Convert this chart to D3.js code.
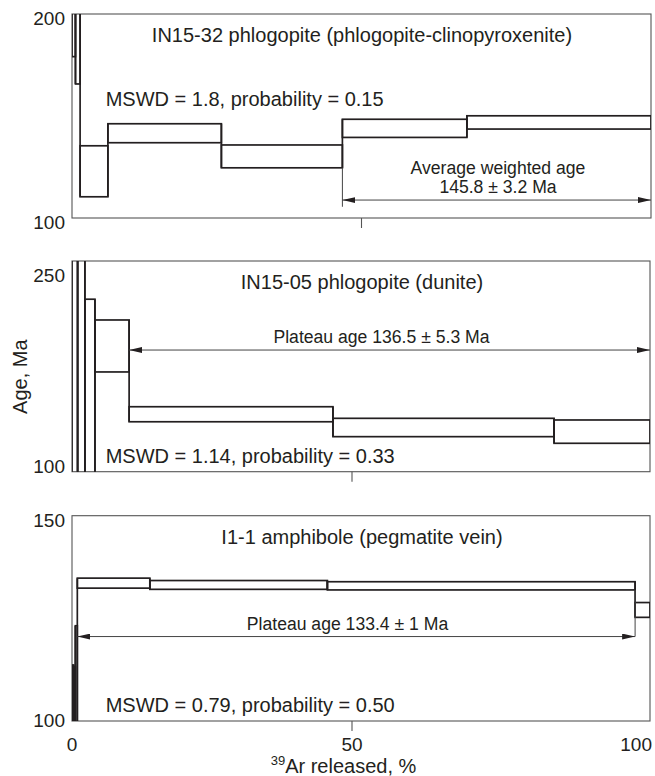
<!DOCTYPE html>
<html>
<head>
<meta charset="utf-8">
<script src="https://cdn.jsdelivr.net/npm/d3@7"></script>
<style>
body { margin: 0; background: #fff; }
svg text { font-family: "Liberation Sans", Arial, sans-serif; fill: #231f20; }
</style>
</head>
<body>
<div id="content"></div>
<script>
const width = 655;
const height = 776;
const ink = '#231f20';

// heating steps: cumulative 39Ar released (%) and age range (Ma)
const stepsTop = [
    {from: 0, to: 0.6, lo: 179.6, hi: 210},
    {from: 0.6, to: 1.4, lo: 166.2, hi: 210},
    {from: 1.4, to: 6.2, lo: 110.9, hi: 135.9},
    {from: 6.2, to: 25.8, lo: 137.4, hi: 146.7},
    {from: 25.8, to: 46.7, lo: 125.1, hi: 136.3},
    {from: 46.7, to: 68.2, lo: 140.0, hi: 148.9},
    {from: 68.2, to: 100, lo: 144.1, hi: 150.6}
];
const stepsMid = [
    {from: 0, to: 1.0, lo: 85, hi: 270},
    {from: 1.0, to: 2.3, lo: 85, hi: 270},
    {from: 2.3, to: 4.1, lo: 85, hi: 228.6},
    {from: 4.1, to: 10.2, lo: 171.5, hi: 212.3},
    {from: 10.2, to: 46.6, lo: 132.4, hi: 144.2},
    {from: 46.6, to: 83.9, lo: 120.7, hi: 135.1},
    {from: 83.9, to: 100, lo: 115.5, hi: 133.8}
];
const stepsBot = [
    {from: 0, to: 0.3, lo: 95, hi: 113},
    {from: 0.3, to: 0.6, lo: 95, hi: 112.5},
    {from: 0.6, to: 0.95, lo: 95, hi: 122.8},
    {from: 0.95, to: 13.9, lo: 132.2, hi: 134.7},
    {from: 13.9, to: 45.6, lo: 131.9, hi: 134.1},
    {from: 45.6, to: 97.5, lo: 131.75, hi: 133.8},
    {from: 97.5, to: 100, lo: 124.9, hi: 128.6}
];

const yTicksTop = [100, 200];
const yTicksMid = [100, 250];
const yTicksBot = [100, 150];
const xTicks = [0, 50, 100];

const titles = [
    'IN15-32 phlogopite (phlogopite-clinopyroxenite)',
    'IN15-05 phlogopite (dunite)',
    'I1-1 amphibole (pegmatite vein)'
];
const stats = [
    'MSWD = 1.8, probability = 0.15',
    'MSWD = 1.14, probability = 0.33',
    'MSWD = 0.79, probability = 0.50'
];
const ageNotes = [
    ['Average weighted age', '145.8 \u00b1 3.2 Ma'],
    ['Plateau age 136.5 \u00b1 5.3 Ma'],
    ['Plateau age 133.4 \u00b1 1 Ma']
];
// plateau arrows: range of 39Ar (%) and the age level they are drawn at
const plateaus = [
    {from: 46.7, to: 100, age: 109.3},
    {from: 10.2, to: 100, age: 188.7},
    {from: 0.95, to: 97.5, age: 120.1}
];
// guide lines down to the arrows
const guides = [
    [{at: 46.7, lo: 106, hi: 125.1}],
    [],
    [{at: 97.5, lo: 120.1, hi: 131.75}]
];

// layout of the three panels (pixels)
const layout = [
    {top: 14, bottom: 218, yDomain: [100.5, 200.5], xRange: [72, 361.5, 651],
     titleY: 41.7, statY: 106, noteX: 498, noteY: 174},
    {top: 261, bottom: 471.7, yDomain: [93.2, 258.6], xRange: [72, 352, 650],
     titleY: 289.3, statY: 462.7, noteX: 381.5, noteY: 342.7},
    {top: 515.7, bottom: 721, yDomain: [99, 150.3], xRange: [72, 352, 650],
     titleY: 544.3, statY: 711.7, noteX: 347.5, noteY: 630}
];
const stepSets = [stepsTop, stepsMid, stepsBot];
const yTickSets = [yTicksTop, yTicksMid, yTicksBot];

const fig = d3.select('#content')
    .append('svg')
    .attr('width', width)
    .attr('height', height);

const defs = fig.append('defs');
defs.append('marker')
    .attr('id', 'head')
    .attr('viewBox', '0 0 13 6')
    .attr('refX', 13)
    .attr('refY', 3)
    .attr('markerUnits', 'userSpaceOnUse')
    .attr('markerWidth', 13)
    .attr('markerHeight', 6)
    .attr('orient', 'auto-start-reverse')
    .append('path')
    .attr('d', 'M0,0L13,3L0,6Z')
    .attr('fill', ink);

layout.forEach((p, i) => {
    const x = d3.scaleLinear().domain(xTicks).range(p.xRange);
    const y = d3.scaleLinear().domain(p.yDomain).range([p.bottom, p.top]);
    const steps = stepSets[i];
    const g = fig.append('g');

    defs.append('clipPath')
        .attr('id', 'clip' + i)
        .append('rect')
        .attr('x', x(0))
        .attr('y', p.top)
        .attr('width', x(100) - x(0))
        .attr('height', p.bottom - p.top);

    // frame
    g.append('rect')
        .attr('x', x(0))
        .attr('y', p.top)
        .attr('width', x(100) - x(0))
        .attr('height', p.bottom - p.top)
        .attr('fill', 'none')
        .attr('stroke', '#555')
        .attr('stroke-width', 1.1);

    // y labels
    g.append('g')
        .selectAll('text')
        .data(yTickSets[i])
        .join('text')
        .attr('x', x(0) - 7)
        .attr('y', (d) => y(d))
        .attr('dy', '0.52em')
        .attr('text-anchor', 'end')
        .attr('font-size', 19)
        .text((d) => d);

    // tick at 50 %
    g.append('line')
        .attr('x1', x(50))
        .attr('x2', x(50))
        .attr('y1', p.bottom)
        .attr('y2', p.bottom + 10)
        .attr('stroke', '#555')
        .attr('stroke-width', 1.1);

    const plot = g.append('g').attr('clip-path', `url(#clip${i})`);

    // connectors between steps
    plot.append('g')
        .selectAll('line')
        .data(d3.pairs(steps))
        .join('line')
        .attr('x1', (d) => x(d[0].to))
        .attr('x2', (d) => x(d[0].to))
        .attr('y1', (d) => y(Math.min(d[0].lo, d[1].lo)))
        .attr('y2', (d) => y(Math.max(d[0].hi, d[1].hi)))
        .attr('stroke', ink)
        .attr('stroke-width', 1.7);

    plot.append('g')
        .selectAll('rect')
        .data(steps)
        .join('rect')
        .attr('x', (d) => x(d.from))
        .attr('y', (d) => y(d.hi))
        .attr('width', (d) => x(d.to) - x(d.from))
        .attr('height', (d) => y(d.lo) - y(d.hi))
        .attr('fill', 'none')
        .attr('stroke', ink)
        .attr('stroke-width', 1.7);

    // guide lines
    g.append('g')
        .selectAll('line')
        .data(guides[i])
        .join('line')
        .attr('x1', (d) => x(d.at))
        .attr('x2', (d) => x(d.at))
        .attr('y1', (d) => y(d.lo))
        .attr('y2', (d) => y(d.hi))
        .attr('stroke', '#444')
        .attr('stroke-width', 1);

    // plateau arrow
    const pl = plateaus[i];
    g.append('line')
        .attr('x1', x(pl.from))
        .attr('x2', x(pl.to))
        .attr('y1', y(pl.age))
        .attr('y2', y(pl.age))
        .attr('stroke', '#444')
        .attr('stroke-width', 1)
        .attr('marker-start', 'url(#head)')
        .attr('marker-end', 'url(#head)');

    g.append('text')
        .attr('x', 362)
        .attr('y', p.titleY)
        .attr('text-anchor', 'middle')
        .attr('font-size', 20)
        .text(titles[i]);

    g.append('text')
        .attr('x', 105.7)
        .attr('y', p.statY)
        .attr('font-size', 20)
        .text(stats[i]);

    g.append('g')
        .selectAll('text')
        .data(ageNotes[i])
        .join('text')
        .attr('x', p.noteX)
        .attr('y', (d, k) => p.noteY + k * 18.7)
        .attr('text-anchor', 'middle')
        .attr('font-size', 17.6)
        .text((d) => d);

    if (i === 2) {
        g.append('g')
            .selectAll('text')
            .data(xTicks)
            .join('text')
            .attr('x', (d) => d === 100 ? x(d) + 2 : x(d))
            .attr('y', 751)
            .attr('text-anchor', (d) => d === 100 ? 'end' : 'middle')
            .attr('font-size', 19)
            .text((d) => d);
    }
});

const xTitle = fig.append('text')
    .attr('x', 343.5)
    .attr('y', 773)
    .attr('text-anchor', 'middle')
    .attr('font-size', 20);
xTitle.append('tspan')
    .attr('font-size', 13)
    .attr('dy', -8)
    .text('39');
xTitle.append('tspan')
    .attr('dy', 8)
    .text('Ar released, %');

fig.append('text')
    .attr('transform', 'translate(27,376.7) rotate(-90)')
    .attr('text-anchor', 'middle')
    .attr('font-size', 20)
    .text('Age, Ma');
</script>
</body>
</html>
